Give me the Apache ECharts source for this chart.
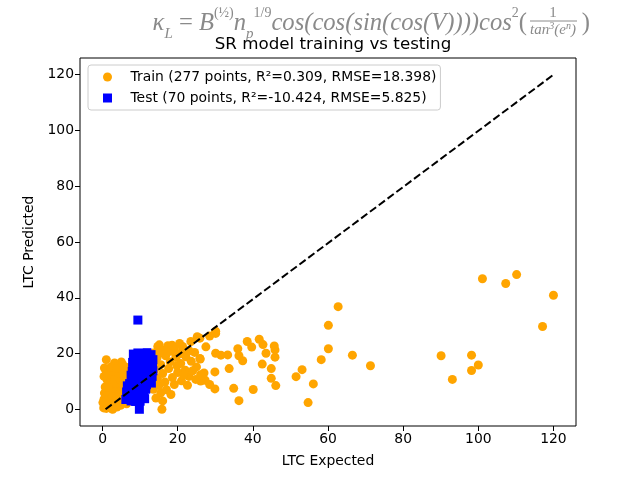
<!DOCTYPE html>
<html>
<head>
<meta charset="utf-8" />
<title>SR model training vs testing</title>
<script src="https://cdn.jsdelivr.net/npm/echarts@6.0.0/dist/echarts.min.js"></script>
<style>
  html, body { margin: 0; padding: 0; background: #fff; }
  #main { width: 640px; height: 480px; }
</style>
</head>
<body>
<div id="main"></div>
<script>
// 数据：从图上估读
const trainX = [
    // 远处的点
    101.1, 107.3, 110.2, 120.0, 117.1, 90.1, 98.2, 100.0, 98.2, 93.1,
    62.7, 60.1, 60.1, 58.2, 66.5, 71.3, 53.1, 51.5, 56.1, 54.7,
    46.1, 44.9, 44.9, 42.5, 45.9, 45.9, 45.7, 43.5, 42.7, 41.7,
    39.7, 38.5, 36.0, 36.3, 37.3, 33.7, 40.1, 36.3, 34.9,
    33.3, 31.5, 30.1, 29.9, 29.9, 28.5, 27.3, 27.0, 26.1, 25.9, 27.5, 28.5, 30.1, 30.1, 25.9,
    // 中间一团
    15.8, 18.2, 19.1, 15.5, 14.7, 19.1, 21.3, 23.5, 25.2, 24.8, 26.1, 15.1, 21.3,
    14.5, 15.5, 16.8, 18.0, 19.5, 20.8, 22.2, 23.6, 24.5, 25.0, 22.0, 20.0, 17.6,
    16.0, 14.6, 15.0, 16.6, 18.6, 21.0, 23.0, 13.8, 14.2, 17.0, 20.4, 18.2, 16.2,
    23.0, 26.0, 24.0, 22.6, 13.6, 15.0, 17.4, 19.8, 21.6, 13.5, 16.0, 18.5, 20.5,
    5.0, 6.5, 6.8,
    // 原点附近
    0.3, 0.6, 1.0, 1.4, 0.8, 0.4, 1.2, 2.0, 2.5, 3.0, 2.2, 1.8, 0.5, 1.0, 2.6,
    3.4, 3.8, 4.2, 4.8, 5.2, 3.0, 2.0, 0.7, 1.5, 3.6, 4.4, 5.0, 5.6, 2.8, 4.0,
    1.2, 0.4, 2.4, 3.3, 4.6, 5.4, 5.8, 1.0, 3.0, 4.2, 1.0, 0.5, 3.2, 4.5, 5.4,
    6.0, 2.7, 0.1, 3.9, 1.6, 5.9, 6.2, 6.4, 2.2, 3.8
];
const trainY = [
    46.8, 45.1, 48.3, 40.9, 29.7, 19.2, 19.4, 15.9, 13.9, 10.7,
    36.8, 30.1, 21.7, 17.8, 19.4, 15.6, 14.2, 11.7, 9.1, 2.4,
    8.5, 11.1, 14.6, 16.2, 18.7, 21.3, 22.7, 20.1, 23.2, 25.1,
    22.3, 24.3, 21.7, 19.2, 17.4, 14.6, 7.1, 3.1, 7.5,
    19.5, 19.4, 20.1, 13.4, 7.3, 8.9, 10.4, 13.0, 10.1, 18.2, 22.4, 26.3, 27.2, 28.0, 25.5,
    0.0, 5.3, 8.9, 5.9, 22.5, 21.9, 22.5, 24.3, 26.0, 10.7, 12.4, 23.1, 21.3,
    18.5, 16.0, 19.2, 17.0, 18.6, 16.4, 18.8, 17.2, 20.4, 15.2, 14.0, 13.2, 14.6,
    12.8, 11.0, 8.6, 9.8, 11.4, 10.2, 11.8, 14.0, 4.0, 7.0, 19.8, 20.8, 21.2,
    21.0, 18.0, 13.8, 8.6, 20.2, 20.0, 22.8, 15.6, 12.4, 7.2, 3.0, 23.0, 23.6,
    17.0, 15.0, 11.0,
    0.5, 1.2, 0.3, 2.0, 2.8, 3.6, 4.2, 1.0, 0.2, 1.5, 3.0, 5.0, 5.8, 6.5, 4.6,
    3.2, 0.8, 2.2, 1.4, 3.0, 6.0, 7.2, 8.0, 9.0, 7.8, 5.2, 6.4, 4.5, 9.8, 9.2,
    10.6, 11.8, 12.0, 11.2, 10.8, 8.6, 11.5, 13.5, 13.8, 13.0, 17.8, 14.8, 16.6, 15.4, 16.0,
    13.6, 0.0, 2.4, 4.0, 7.8, 7.0, 9.8, 2.0, 15.2, 14.6
];

const testX = [
    8.2, 9.4, 10.6, 11.8, 12.9, 8.6, 10.0, 11.2, 12.4, 13.4,
    8.0, 9.2, 10.4, 11.6, 12.8, 8.4, 9.8, 11.0, 12.2, 13.3,
    7.9, 9.0, 10.2, 11.4, 12.6, 8.4, 9.6, 10.8, 12.0, 13.2,
    8.0, 9.2, 11.2, 12.4, 13.0,
    7.2, 8.4, 9.6, 10.8, 11.7, 7.0, 8.2, 9.4, 10.6, 11.5,
    7.4, 8.6, 9.8, 11.0, 7.0, 8.0, 9.2, 10.4, 11.2,
    7.6, 8.8, 6.2, 6.4, 6.6, 10.0, 9.8, 9.4, 13.4, 12.0,
    10.2, 11.0, 9.0, 12.6, 8.8, 7.6
];
const testY = [
    19.8, 20.2, 20.0, 20.3, 19.6, 18.4, 18.8, 18.2, 18.6, 17.8,
    16.8, 17.0, 16.4, 16.8, 16.2, 15.2, 15.0, 15.4, 14.8, 15.2,
    13.6, 13.8, 13.2, 13.6, 13.0, 12.0, 11.6, 12.2, 11.4, 11.8,
    10.4, 10.0, 10.2, 9.8, 9.4,
    9.2, 8.6, 9.0, 8.4, 8.8, 7.4, 7.2, 7.6, 7.0, 7.2,
    5.8, 5.6, 6.0, 5.4, 4.4, 4.0, 4.4, 4.2, 3.8,
    3.0, 2.8, 3.5, 6.2, 8.4, 2.9, 0.0, 32.0, 13.8, 16.0,
    19.2, 17.4, 18.2, 10.6, 11.0, 12.2
];

// 对角参考线两端
const refLineX = [0.8, 120];
const refLineY = [0, 120];

const tickValues = [0, 20, 40, 60, 80, 100, 120];

const trainName = 'Train (277 points, R²=0.309, RMSE=18.398)';
const testName = 'Test (70 points, R²=-10.424, RMSE=5.825)';

const zip = (xs, ys) => xs.map((x, i) => [x, ys[i]]);

const FONT = 'DejaVu Sans';
const MATH = 'Liberation Serif';
const GREY = '#8a8a8a';

const mathStyle = (size) => ({
    fontFamily: MATH, fontStyle: 'italic', fontSize: size, fill: GREY, color: GREY
});

const axisCommon = {
    type: 'value',
    min: -6, max: 126,
    nameLocation: 'middle',
    nameTextStyle: {fontFamily: FONT, fontSize: 13.9, color: '#000'},
    axisLine: {show: false, onZero: false},
    splitLine: {show: false},
    axisTick: {show: true, length: 5, lineStyle: {color: '#000'}, customValues: tickValues},
    axisLabel: {fontFamily: FONT, fontSize: 13.9, color: '#000', margin: 6, customValues: tickValues}
};

let myChart = echarts.init(document.getElementById('main'), null, {renderer: 'canvas'});

let option = {
    animation: false,
    backgroundColor: '#fff',
    textStyle: {fontFamily: FONT},
    title: {
        text: 'SR model training vs testing',
        left: 328,
        top: 31,
        textAlign: 'center',
        textStyle: {fontFamily: FONT, fontSize: 16.7, fontWeight: 'normal', color: '#000'}
    },
    legend: {
        orient: 'vertical',
        left: 88,
        top: 65,
        padding: [5, 4, 5, 15],
        itemGap: 7,
        itemWidth: 36,
        itemHeight: 9,
        borderColor: '#cccccc',
        borderWidth: 1,
        borderRadius: 3,
        backgroundColor: 'rgba(255,255,255,0.8)',
        textStyle: {fontFamily: FONT, fontSize: 13.9, color: '#000'},
        data: [
            {name: trainName, icon: 'circle'},
            {name: testName, icon: 'path://M0,0L10,0L10,10L0,10Z'}
        ]
    },
    grid: {
        left: 80, right: 64, top: 58, bottom: 54,
        show: true, borderColor: '#000', borderWidth: 1
    },
    xAxis: Object.assign({}, axisCommon, {name: 'LTC Expected', nameGap: 28}),
    yAxis: Object.assign({}, axisCommon, {name: 'LTC Predicted', nameGap: 43}),
    series: [
        {
            name: trainName,
            type: 'scatter',
            symbol: 'circle',
            symbolSize: 9,
            itemStyle: {color: '#FFA500', opacity: 1},
            emphasis: {disabled: true},
            data: zip(trainX, trainY),
            z: 2
        },
        {
            name: testName,
            type: 'scatter',
            symbol: 'rect',
            symbolSize: 9,
            itemStyle: {color: '#0000FF', opacity: 1},
            emphasis: {disabled: true},
            data: zip(testX, testY),
            z: 3
        },
        {
            type: 'line',
            data: zip(refLineX, refLineY),
            symbol: 'none',
            lineStyle: {color: '#000', width: 2, type: [7.7, 3.3]},
            emphasis: {disabled: true},
            z: 4
        }
    ],
    // 顶部公式
    graphic: [
        {
            type: 'text',
            x: 527, y: 24,
            style: {
                text: '{i|κ}{s|L}{r| = }{i|B}{p|(½)}{i|n}{s|p}{p|1/9}{i|cos(cos(sin(cos(V))))cos}{p|2}{r|(}',
                align: 'right',
                verticalAlign: 'middle',
                fill: GREY,
                rich: {
                    i: Object.assign(mathStyle(24.6), {lineHeight: 36}),
                    r: Object.assign(mathStyle(24.6), {fontStyle: 'normal', lineHeight: 36}),
                    p: Object.assign(mathStyle(14), {fontStyle: 'normal', lineHeight: 14, verticalAlign: 'top'}),
                    s: Object.assign(mathStyle(15), {lineHeight: 14, verticalAlign: 'bottom'})
                }
            }
        },
        {
            type: 'text',
            x: 553, y: 13,
            style: Object.assign(mathStyle(15), {text: '1', fontStyle: 'normal', align: 'center', verticalAlign: 'middle'})
        },
        {
            type: 'line',
            shape: {x1: 530, y1: 21, x2: 577, y2: 21},
            style: {stroke: GREY, lineWidth: 1}
        },
        {
            type: 'text',
            x: 553, y: 30,
            style: {
                text: '{a|tan}{b|3}{a|(e}{b|n}{a|)}',
                align: 'center',
                verticalAlign: 'middle',
                fill: GREY,
                rich: {
                    a: Object.assign(mathStyle(15), {lineHeight: 18}),
                    b: Object.assign(mathStyle(10), {lineHeight: 10, verticalAlign: 'top'})
                }
            }
        },
        {
            type: 'text',
            x: 590, y: 24,
            style: Object.assign(mathStyle(24.6), {text: ')', fontStyle: 'normal', align: 'right', verticalAlign: 'middle'})
        }
    ]
};

myChart.setOption(option);
</script>
</body>
</html>
